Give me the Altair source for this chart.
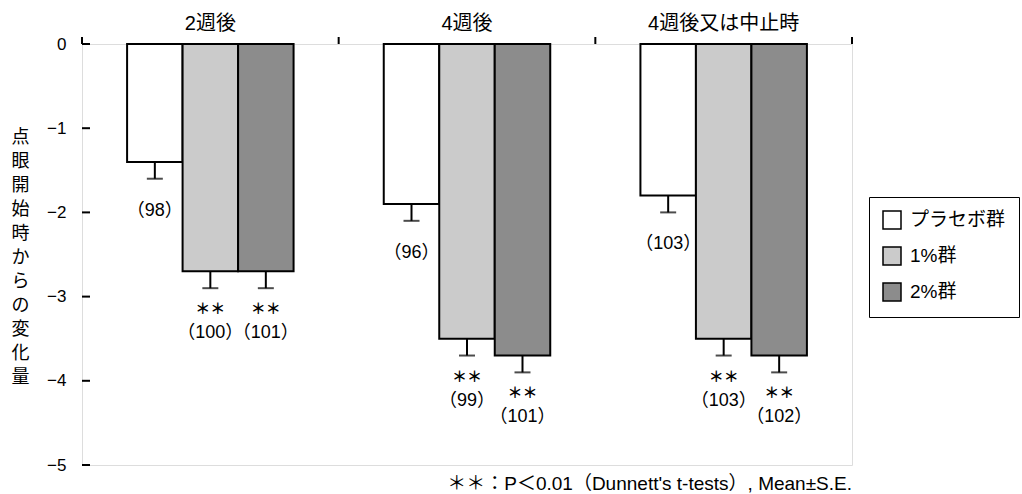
import altair as alt
import pandas as pd

# Visits and treatment groups
groups = ["2週後", "4週後", "4週後又は中止時"]
series = ["プラセボ群", "1%群", "2%群"]
colors = ["#ffffff", "#cbcbcb", "#8c8c8c"]

# Mean change from baseline, standard error, number of eyes
mean_placebo = [-1.4, -1.9, -1.8]
mean_1pct = [-2.7, -3.5, -3.5]
mean_2pct = [-2.7, -3.7, -3.7]
se_placebo = [0.2, 0.2, 0.2]
se_1pct = [0.2, 0.2, 0.2]
se_2pct = [0.2, 0.2, 0.2]
n_placebo = [98, 96, 103]
n_1pct = [100, 99, 103]
n_2pct = [101, 101, 102]
sig_placebo = ["", "", ""]
sig_1pct = ["＊＊", "＊＊", "＊＊"]
sig_2pct = ["＊＊", "＊＊", "＊＊"]

y_ticks = [0, -1, -2, -3, -4, -5]
y_title = list("点眼開始時からの変化量")
footnote = "＊＊：P＜0.01（Dunnett's t-tests）, Mean±S.E."

FONT = "Liberation Sans, Noto Sans CJK JP, sans-serif"

rows = []
for s, means, ses, ns, sigs in [
    (series[0], mean_placebo, se_placebo, n_placebo, sig_placebo),
    (series[1], mean_1pct, se_1pct, n_1pct, sig_1pct),
    (series[2], mean_2pct, se_2pct, n_2pct, sig_2pct),
]:
    for g, m, e, n, sg in zip(groups, means, ses, ns, sigs):
        rows.append({"group": g, "series": s, "mean": m, "lower": m - e,
                     "n": f"（{n}）", "sig": sg})
df = pd.DataFrame(rows)

x_enc = alt.X("group:N", sort=groups,
              scale=alt.Scale(paddingInner=0, paddingOuter=0),
              axis=alt.Axis(orient="top", title=None, ticks=False, domain=False,
                            labelAngle=0, labelFontSize=20, labelFont=FONT,
                            labelColor="black", labelPadding=11))
xo_enc = alt.XOffset("series:N", sort=series,
                     scale=alt.Scale(paddingInner=0, paddingOuter=0.8125))
y_scale = alt.Scale(domain=[-5, 0], nice=False, zero=False)

base = alt.Chart(df)

bars = base.mark_bar(stroke="black", strokeWidth=2).encode(
    x=x_enc,
    xOffset=xo_enc,
    y=alt.Y("mean:Q", scale=y_scale,
            axis=alt.Axis(values=y_ticks, format="d", ticks=False, domain=False,
                          grid=False, labelFontSize=17, labelFont=FONT,
                          labelColor="black", labelPadding=16, title=y_title,
                          titleAngle=0, titleAlign="center", titleBaseline="top",
                          titleX=-62, titleY=84, titleLineHeight=24,
                          titleFontSize=18, titleFontWeight="normal",
                          titleFont=FONT, titleColor="black")),
    y2=alt.datum(0),
    color=alt.Color("series:N", sort=series,
                    scale=alt.Scale(domain=series, range=colors),
                    legend=alt.Legend(title=None, orient="none", legendX=787,
                                      legendY=153, symbolType="square",
                                      symbolSize=324, symbolStrokeColor="black",
                                      symbolStrokeWidth=1.5, labelFontSize=19,
                                      labelFont=FONT, labelColor="black",
                                      labelOffset=8, rowPadding=12, padding=13,
                                      strokeColor="black", labelLimit=300)),
)

err = base.mark_rule(color="black", strokeWidth=2).encode(
    x=alt.X("group:N", sort=groups), xOffset=xo_enc,
    y="mean:Q", y2="lower:Q")

caps = base.mark_tick(color="black", thickness=2, size=16, orient="horizontal").encode(
    x=alt.X("group:N", sort=groups), xOffset=xo_enc, y="lower:Q")

n_placebo_text = base.transform_filter(alt.datum.sig == "").mark_text(
    fontSize=18, font=FONT, color="black", dy=32, baseline="middle").encode(
    x=alt.X("group:N", sort=groups), xOffset=xo_enc, y="lower:Q", text="n:N")

stars = base.transform_filter(alt.datum.sig != "").mark_text(
    fontSize=15, font=FONT, fontWeight="bold", color="black", dy=21,
    baseline="middle").encode(
    x=alt.X("group:N", sort=groups), xOffset=xo_enc, y="lower:Q", text="sig:N")

n_text = base.transform_filter(alt.datum.sig != "").mark_text(
    fontSize=18, font=FONT, color="black", dy=45, baseline="middle").encode(
    x=alt.X("group:N", sort=groups), xOffset=xo_enc, y="lower:Q", text="n:N")

# Inward ticks on the value axis
tick_df = pd.DataFrame({"v": y_ticks})
y_tick_rules = alt.Chart(tick_df).mark_rule(color="black", strokeWidth=2).encode(
    y="v:Q", x=alt.value(0), x2=alt.value(8))

# Short upward ticks at the visit boundaries on the top edge
grp_df = pd.DataFrame({"group": groups})
top_ticks = alt.Chart(grp_df).mark_rule(color="black", strokeWidth=2).encode(
    x=alt.X("group:N", sort=groups, bandPosition=0),
    y=alt.value(-7), y2=alt.value(0))
end_tick = alt.Chart(grp_df.tail(1)).mark_rule(color="black", strokeWidth=2).encode(
    x=alt.X("group:N", sort=groups, bandPosition=1),
    y=alt.value(-7), y2=alt.value(0))

chart = alt.layer(
    bars, err, caps, n_placebo_text, stars, n_text, y_tick_rules, top_ticks, end_tick
).properties(
    width=770, height=421,
    autosize=alt.AutoSizeParams(type="none"),
    padding={"left": 82, "top": 44, "right": 170, "bottom": 29},
    title=alt.TitleParams(footnote, orient="bottom", anchor="end", frame="group",
                          fontSize=19, font=FONT, fontWeight="normal",
                          color="black", offset=2),
).configure_view(stroke="black", strokeWidth=2).configure(background="white")

chart.save("out.html", embed_options={"renderer": "svg", "actions": False})
